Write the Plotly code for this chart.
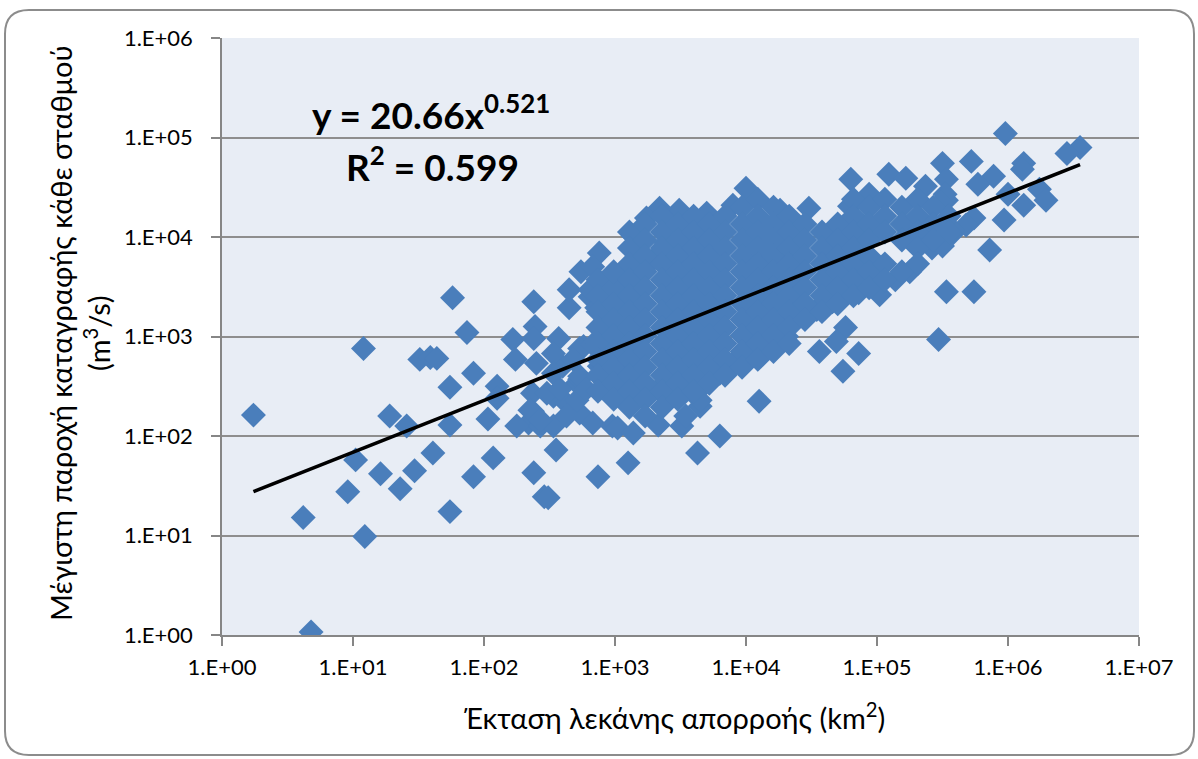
import plotly.graph_objects as go

# ---------------- data (log10 units) ----------------
# log10 of catchment area (km2) and log10 of max recorded discharge (m3/s)
edge_log_area = [
    0.24, 0.62, 0.68, 1.08, 1.02, 0.96, 1.09, 1.28, 1.41, 1.21, 1.36, 1.47, 1.61, 1.74, 1.74, 1.74,
    1.51, 1.59, 1.64, 1.76, 1.87, 1.92, 2.03, 2.07, 1.92, 2.10, 2.10, 2.22, 2.24, 2.38, 2.39, 2.38,
    2.38, 2.46, 2.49, 2.55, 2.34, 2.43, 2.53, 2.65, 2.65, 2.57, 2.53, 2.37, 2.37, 2.71, 2.73, 2.83,
    2.87, 2.76, 2.60, 2.73, 2.63, 2.25,
    2.74, 2.88, 2.83, 2.96, 2.86, 2.81, 2.86, 2.93, 2.73, 2.83, 2.53, 2.40, 2.53, 2.68, 2.73, 2.88,
    2.96, 2.48, 2.58, 2.71, 2.78, 2.35, 2.43, 2.63, 2.98,
    4.00, 3.90, 3.70, 3.49, 3.34, 3.24, 3.14, 4.26, 4.31, 3.80, 3.70, 3.54, 3.39, 3.29, 3.09, 2.96,
    2.81, 3.19, 3.44,
    4.10, 3.80, 3.63, 3.10, 3.02, 3.14, 3.33, 3.51, 3.65, 3.67, 3.80, 3.90, 4.05, 4.23, 4.36,
    3.54, 3.65, 3.57, 3.70, 3.82, 3.93, 3.33, 3.16, 2.96,
    4.80, 5.09, 5.22, 5.50, 4.48, 4.94, 5.37, 5.53, 4.79, 4.31, 4.37, 4.54, 4.66, 4.86, 5.02, 5.14,
    5.25, 5.42, 5.53, 5.47, 4.76, 4.69, 4.56, 4.86, 4.74, 5.58,
    5.98, 6.55, 6.45, 6.12, 6.11, 5.72, 5.89, 5.77, 6.24, 6.29, 6.12, 6.00, 5.74, 5.68, 5.97, 5.58,
    5.50, 5.86, 5.74, 5.53, 5.52, 5.49,
]
edge_log_q = [
    2.21, 1.18, 0.03, 2.88, 1.76, 1.44, 0.99, 2.20, 2.10, 1.62, 1.47, 1.65, 1.83, 1.24, 2.11, 2.49,
    2.77, 2.79, 2.78, 3.39, 3.04, 2.63, 2.17, 1.78, 1.59, 2.50, 2.38, 2.97, 2.77, 3.35, 3.10, 2.98,
    1.63, 1.39, 1.38, 1.86, 2.13, 2.10, 2.10, 3.29, 3.47, 2.98, 2.40, 2.43, 2.25, 2.53, 2.23, 2.13,
    1.59, 2.90, 2.70, 2.57, 2.33, 2.10,
    3.65, 3.84, 3.70, 3.60, 3.50, 3.40, 3.29, 3.17, 2.88, 2.92, 2.83, 2.73, 2.63, 2.77, 2.60, 2.70,
    2.53, 2.43, 2.47, 2.36, 2.47, 2.26, 2.16, 2.20, 2.10,
    4.49, 4.32, 4.24, 4.27, 4.29, 4.19, 4.01, 4.27, 4.07, 4.07, 4.01, 3.91, 3.94, 3.77, 3.60, 3.54,
    3.47, 3.47, 3.57,
    2.35, 2.00, 1.83, 1.73, 2.08, 2.03, 2.11, 2.10, 2.30, 2.50, 2.63, 2.70, 2.87, 2.97, 3.17,
    2.20, 2.36, 2.53, 2.60, 2.67, 2.77, 2.47, 2.43, 2.47,
    4.58, 4.63, 4.59, 4.74, 4.29, 4.43, 4.51, 4.37, 4.31, 3.00, 3.17, 3.27, 3.35, 3.44, 3.42, 3.57,
    3.65, 3.89, 3.45, 2.97, 3.09, 2.95, 2.85, 2.83, 2.65, 4.04,
    5.04, 4.90, 4.84, 4.74, 4.68, 4.76, 4.61, 4.53, 4.48, 4.37, 4.32, 4.43, 4.19, 4.12, 4.17, 4.07,
    3.91, 3.87, 3.45, 4.58, 4.43, 4.35,
]

# dense core of the cloud (stations that overlap each other)
core_log_area = (
    [2.87] * 8 + [2.99] * 9 + [3.11] * 12 + [3.23] * 13 + [3.36] * 13 + [3.48] * 12 + [3.60] * 12
    + [3.72] * 11 + [3.84] * 11 + [3.97] * 11 + [4.09] * 11 + [4.21] * 10 + [4.33] * 9 + [4.45] * 7
    + [4.58] * 6 + [4.70] * 6 + [4.82] * 7 + [4.94] * 6 + [5.06] * 5 + [5.19] * 4 + [5.31] * 5
    + [5.43] * 3 + [5.55] * 2
)
core_log_q = (
    [3.57, 3.41, 3.25, 3.09, 2.93, 2.77, 2.61, 2.45]
    + [3.49, 3.33, 3.17, 3.01, 2.85, 2.69, 2.53, 2.37, 3.65]
    + [4.05, 3.89, 3.73, 3.57, 3.41, 3.25, 3.09, 2.93, 2.77, 2.61, 2.45, 2.29]
    + [4.13, 3.97, 3.81, 3.65, 3.49, 3.33, 3.17, 3.01, 2.85, 2.69, 2.53, 2.37, 2.20]
    + [4.21, 4.05, 3.89, 3.73, 3.57, 3.41, 3.25, 3.09, 2.93, 2.77, 2.61, 2.45, 2.29]
    + [4.13, 3.97, 3.81, 3.65, 3.49, 3.33, 3.17, 3.01, 2.85, 2.69, 2.53, 2.37]
    + [4.21, 4.05, 3.89, 3.73, 3.57, 3.41, 3.25, 3.09, 2.93, 2.77, 2.61, 2.45]
    + [4.13, 3.97, 3.81, 3.65, 3.49, 3.33, 3.17, 3.01, 2.85, 2.69, 2.53]
    + [4.21, 4.05, 3.89, 3.73, 3.57, 3.41, 3.25, 3.09, 2.93, 2.77, 2.61]
    + [4.30, 4.13, 3.97, 3.81, 3.65, 3.49, 3.33, 3.17, 3.01, 2.85, 2.69]
    + [4.38, 4.21, 4.05, 3.89, 3.73, 3.57, 3.41, 3.25, 3.09, 2.93, 2.77]
    + [4.30, 4.13, 3.97, 3.81, 3.65, 3.49, 3.33, 3.17, 3.01, 2.85]
    + [4.21, 4.05, 3.89, 3.73, 3.57, 3.41, 3.25, 3.09, 2.93]
    + [4.13, 3.97, 3.81, 3.65, 3.49, 3.33, 3.17]
    + [4.05, 3.89, 3.73, 3.57, 3.41, 3.25]
    + [4.13, 3.97, 3.81, 3.65, 3.49, 3.33]
    + [4.38, 4.21, 4.05, 3.89, 3.73, 3.57, 3.41]
    + [4.30, 4.13, 3.97, 3.81, 3.65, 3.49]
    + [4.38, 4.21, 4.05, 3.73, 3.57]
    + [4.30, 4.13, 3.97, 3.65]
    + [4.38, 4.21, 4.05, 3.89, 3.73]
    + [4.30, 4.13, 3.97]
    + [4.21, 4.05]
)

# power trendline coefficients shown on the chart: y = a * x^b
trend_a = 20.66
trend_b = 0.521
r_squared = 0.599

x_tick_vals = [1e0, 1e1, 1e2, 1e3, 1e4, 1e5, 1e6, 1e7]
x_tick_text = ["1.E+00", "1.E+01", "1.E+02", "1.E+03", "1.E+04", "1.E+05", "1.E+06", "1.E+07"]
y_tick_vals = [1e0, 1e1, 1e2, 1e3, 1e4, 1e5, 1e6]
y_tick_text = ["1.E+00", "1.E+01", "1.E+02", "1.E+03", "1.E+04", "1.E+05", "1.E+06"]

# ---------------- figure ----------------
area = [10 ** v for v in edge_log_area + core_log_area]
peak_q = [10 ** v for v in edge_log_q + core_log_q]

W, H = 1198, 759
ML, MR, MT, MB = 222, 59, 38, 124
PW, PH = W - ML - MR, H - MT - MB


def px(xp):
    return (xp - ML) / PW


def py(yp):
    return (H - MB - yp) / PH


FONT = "Lato, 'Open Sans', sans-serif"
AXIS_GREY = "#868686"

fig = go.Figure()
fig.add_trace(go.Scatter(
    x=area, y=peak_q, mode="markers",
    marker=dict(symbol="diamond", size=19.2, color="#4A7EBB", line=dict(width=0)),
    hoverinfo="x+y",
))

x_lo, x_hi = min(area), max(area)
fig.add_trace(go.Scatter(
    x=[x_lo, x_hi], y=[trend_a * x_lo ** trend_b, trend_a * x_hi ** trend_b],
    mode="lines", line=dict(color="black", width=3.6), hoverinfo="skip",
))

fig.update_layout(
    width=W, height=H,
    margin=dict(l=ML, r=MR, t=MT, b=MB, pad=0),
    paper_bgcolor="white", plot_bgcolor="#E8EDF5",
    showlegend=False,
    font=dict(family=FONT, color="black"),
)
fig.update_xaxes(
    type="log", range=[0, 7], tickvals=x_tick_vals, ticktext=x_tick_text,
    ticks="outside", ticklen=9, tickwidth=1.5, tickcolor=AXIS_GREY,
    showline=True, linecolor=AXIS_GREY, linewidth=1.5,
    showgrid=False, zeroline=False,
    tickfont=dict(family=FONT, size=22, color="black"),
    ticklabelstandoff=3,
)
fig.update_yaxes(
    type="log", range=[0, 6], tickvals=y_tick_vals, ticktext=y_tick_text,
    ticks="outside", ticklen=9, tickwidth=1.5, tickcolor=AXIS_GREY,
    showline=True, linecolor=AXIS_GREY, linewidth=1.5,
    showgrid=True, gridcolor="#8E8E8E", gridwidth=1.6, zeroline=False,
    tickfont=dict(family=FONT, size=22, color="black"),
    ticklabelstandoff=14,
)

# axis titles
fig.add_annotation(
    xref="paper", yref="paper", x=px(674), y=py(716), xanchor="center", yanchor="middle",
    text="Έκταση λεκάνης απορροής (km<sup>2</sup>)", showarrow=False,
    font=dict(family=FONT, size=29, color="black"),
)
fig.add_annotation(
    xref="paper", yref="paper", x=px(79), y=py(333), xanchor="center", yanchor="middle",
    text="Μέγιστη παροχή καταγραφής κάθε σταθμού<br>(m<sup>3</sup>/s)", showarrow=False,
    textangle=-90, font=dict(family=FONT, size=29, color="black"),
)
# trendline equation
fig.add_annotation(
    xref="paper", yref="paper", x=px(431), y=py(112), xanchor="center", yanchor="middle",
    text=f"<b>y = {trend_a:.2f}x<sup>{trend_b:.3f}</sup></b>", showarrow=False,
    font=dict(family=FONT, size=37, color="black"),
)
fig.add_annotation(
    xref="paper", yref="paper", x=px(432), y=py(164), xanchor="center", yanchor="middle",
    text=f"<b>R<sup>2</sup> = {r_squared:.3f}</b>", showarrow=False,
    font=dict(family=FONT, size=37, color="black"),
)

# rounded chart border
x0, x1, y0, y1, r = 5, 1194, 10, 755, 24
rx, ry = r / PW, r / PH
path = (
    f"M {px(x0) + rx} {py(y0)} L {px(x1) - rx} {py(y0)} Q {px(x1)} {py(y0)} {px(x1)} {py(y0) - ry} "
    f"L {px(x1)} {py(y1) + ry} Q {px(x1)} {py(y1)} {px(x1) - rx} {py(y1)} "
    f"L {px(x0) + rx} {py(y1)} Q {px(x0)} {py(y1)} {px(x0)} {py(y1) + ry} "
    f"L {px(x0)} {py(y0) - ry} Q {px(x0)} {py(y0)} {px(x0) + rx} {py(y0)} Z"
)
fig.add_shape(type="path", xref="paper", yref="paper", path=path,
              line=dict(color="#8C8C8C", width=2), layer="below")

fig.write_html("out.html", config={"displayModeBar": False},
               post_script="document.body.style.margin='0';document.body.style.overflow='hidden';")
